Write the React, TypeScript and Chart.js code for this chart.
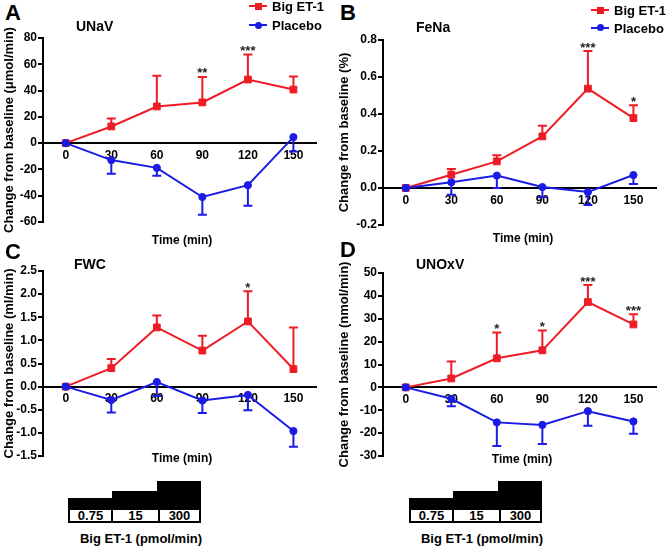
import React, { useEffect, useRef } from "react";
import { Chart, registerables } from "chart.js";

Chart.register(...registerables);

const FONT = '"Liberation Sans", Arial, Helvetica, sans-serif';
const RED = "#ee1c25";
const BLUE = "#1b1be6";

// ---------- shared ----------
const timePoints = [0, 30, 60, 90, 120, 150];
const xTickValues = [0, 30, 60, 90, 120, 150];
const doseLabels = ["0.75", "15", "300"];

// ---------- Panel A: UNaV ----------
const unavTicks = [-60, -40, -20, 0, 20, 40, 60, 80];
const unavBigET1 = [0, 12.7, 27.9, 31, 48.4, 40.8];
const unavBigET1Err = [0, 6.1, 23.3, 19.4, 19.0, 9.9];
const unavPlacebo = [0, -12.9, -18.8, -41, -32, 4.6];
const unavPlaceboErr = [0, 10.4, 6.1, 13.5, 15.7, 11.0];
const unavStars = ["", "", "", "**", "***", ""];

// ---------- Panel B: FeNa ----------
const fenaTicks = [-0.2, 0.0, 0.2, 0.4, 0.6, 0.8];
const fenaBigET1 = [0, 0.072, 0.144, 0.279, 0.537, 0.378];
const fenaBigET1Err = [0, 0.031, 0.033, 0.058, 0.203, 0.069];
const fenaPlacebo = [0, 0.031, 0.067, 0.005, -0.022, 0.07];
const fenaPlaceboErr = [0, 0.067, 0.067, 0.055, 0.07, 0.048];
const fenaStars = ["", "", "", "", "***", "*"];

// ---------- Panel C: FWC ----------
const fwcTicks = [-1.5, -1.0, -0.5, 0.0, 0.5, 1.0, 1.5, 2.0, 2.5];
const fwcBigET1 = [0, 0.4, 1.28, 0.78, 1.41, 0.38];
const fwcBigET1Err = [0, 0.2, 0.26, 0.32, 0.65, 0.9];
const fwcPlacebo = [0, -0.29, 0.1, -0.3, -0.18, -0.96];
const fwcPlaceboErr = [0, 0.27, 0.3, 0.27, 0.33, 0.34];
const fwcStars = ["", "", "", "", "*", ""];

// ---------- Panel D: UNOxV ----------
const unoxTicks = [-30, -20, -10, 0, 10, 20, 30, 40, 50];
const unoxBigET1 = [0, 3.9, 12.7, 16.2, 37.3, 27.5];
const unoxBigET1Err = [0, 7.4, 11.3, 8.7, 7.4, 4.5];
const unoxPlacebo = [0, -5, -15.3, -16.4, -10.4, -14.9];
const unoxPlaceboErr = [0, 3.3, 10.3, 8.3, 6.4, 5.4];
const unoxStars = ["", "", "*", "*", "***", "***"];

const errorBarPlugin = {
  id: "errorBars",
  afterDatasetDraw(chart: any, args: any) {
    const ds: any = chart.data.datasets[args.index];
    const meta = args.meta;
    const yScale = chart.scales.y;
    const ctx = chart.ctx;
    ctx.save();
    ctx.strokeStyle = ds.borderColor;
    ctx.lineWidth = 2;
    meta.data.forEach((pt: any, i: number) => {
      const err = ds.errors ? ds.errors[i] : 0;
      const v = ds.data[i].y;
      if (err > 0) {
        const yEnd = yScale.getPixelForValue(v + ds.errDir * err);
        ctx.beginPath();
        ctx.moveTo(pt.x, pt.y);
        ctx.lineTo(pt.x, yEnd);
        ctx.moveTo(pt.x - 4.5, yEnd);
        ctx.lineTo(pt.x + 4.5, yEnd);
        ctx.stroke();
      }
      if (ds.stars && ds.stars[i]) {
        const top = yScale.getPixelForValue(v + (err > 0 ? ds.errDir * err : 0));
        ctx.fillStyle = "#222";
        ctx.font = `bold 13px ${FONT}`;
        ctx.textAlign = "center";
        ctx.textBaseline = "alphabetic";
        ctx.fillText(ds.stars[i], pt.x, top + 0.5);
      }
    });
    ctx.restore();
  },
};

type PanelProps = {
  x: number; y: number; w: number; h: number;
  yWidth: number; titlePad: number; yTitle: string;
  yTicks: number[]; decimals: number;
  big: number[]; bigErr: number[]; pla: number[]; plaErr: number[]; stars: string[];
};

function Panel(p: PanelProps) {
  const ref = useRef<HTMLCanvasElement>(null);
  useEffect(() => {
    const tickFont = { family: FONT, size: 12, weight: "bold" as const };
    const chart = new Chart(ref.current as HTMLCanvasElement, {
      type: "line",
      data: {
        datasets: [
          {
            label: "Big ET-1",
            data: p.big.map((v, i) => ({ x: timePoints[i], y: v })),
            borderColor: RED,
            backgroundColor: RED,
            pointStyle: "rect",
            pointRadius: 4.8,
            pointBorderWidth: 1,
            borderWidth: 2,
            tension: 0,
            order: 1,
            errors: p.bigErr,
            errDir: 1,
            stars: p.stars,
          } as any,
          {
            label: "Placebo",
            data: p.pla.map((v, i) => ({ x: timePoints[i], y: v })),
            borderColor: BLUE,
            backgroundColor: BLUE,
            pointStyle: "circle",
            pointRadius: 3.6,
            pointBorderWidth: 1,
            borderWidth: 2,
            tension: 0,
            order: 0,
            errors: p.plaErr,
            errDir: -1,
          } as any,
        ],
      },
      options: {
        animation: false,
        responsive: false,
        devicePixelRatio: 1,
        layout: { padding: { top: 12, bottom: 12, left: 0, right: 2 } },
        plugins: { legend: { display: false }, tooltip: { enabled: false } },
        scales: {
          x: {
            type: "linear",
            min: -15,
            max: 165,
            position: { y: 0 } as any,
            afterBuildTicks: (s: any) => {
              s.ticks = xTickValues.map((v) => ({ value: v }));
            },
            grid: { display: false, drawTicks: false },
            border: { display: true, color: "#000", width: 2 },
            ticks: {
              padding: 5,
              font: tickFont,
              color: "#000",
              autoSkip: false,
              maxRotation: 0,
              callback: (v: any) => String(v),
            },
          },
          y: {
            type: "linear",
            min: p.yTicks[0],
            max: p.yTicks[p.yTicks.length - 1],
            afterBuildTicks: (s: any) => {
              s.ticks = p.yTicks.map((v) => ({ value: v }));
            },
            afterFit: (s: any) => {
              s.width = p.yWidth;
            },
            grid: {
              drawOnChartArea: false,
              drawTicks: true,
              tickLength: 5,
              lineWidth: 2,
              color: "#000",
            },
            border: { display: true, color: "#000", width: 2 },
            ticks: {
              padding: 1,
              font: tickFont,
              color: "#000",
              callback: (v: any) => Number(v).toFixed(p.decimals),
            },
            title: {
              display: true,
              text: p.yTitle,
              color: "#000",
              font: { family: FONT, size: 13, weight: "bold" },
              padding: { top: p.titlePad, bottom: 0 },
            },
          },
        },
      },
      plugins: [errorBarPlugin],
    });
    return () => chart.destroy();
  }, []);
  return (
    <canvas
      ref={ref}
      width={p.w}
      height={p.h}
      style={{ position: "absolute", left: p.x, top: p.y, width: p.w, height: p.h }}
    />
  );
}

function Txt({ x, y, size, children, anchor = "center" }: any) {
  return (
    <div
      style={{
        position: "absolute",
        left: x,
        top: y,
        transform: anchor === "center" ? "translate(-50%,-50%)" : "translate(0,-50%)",
        font: `bold ${size}px ${FONT}`,
        lineHeight: 1,
        whiteSpace: "nowrap",
        color: "#000",
      }}
    >
      {children}
    </div>
  );
}

function Legend({ x, y1, y2 }: { x: number; y1: number; y2: number }) {
  const item = (color: string, label: string, y: number, shape: "rect" | "circle") => (
    <div key={label}>
      <div style={{ position: "absolute", left: x, top: y - 1, width: 18, height: 2, background: color }} />
      <div
        style={{
          position: "absolute",
          left: x + 9 - 3.5,
          top: y - 3.5,
          width: 7,
          height: 7,
          background: color,
          borderRadius: shape === "circle" ? "50%" : 0,
        }}
      />
      <Txt x={x + 23} y={y} size={13} anchor="left">{label}</Txt>
    </div>
  );
  return (
    <>
      {item(RED, "Big ET-1", y1, "rect")}
      {item(BLUE, "Placebo", y2, "circle")}
    </>
  );
}

function DoseSteps({ dx }: { dx: number }) {
  const edges = [68, 112, 157, 201];
  const tops = [498, 491, 481];
  const cellEdges = [68, 112, 159, 201];
  return (
    <>
      {tops.map((t, i) => (
        <div
          key={"b" + i}
          style={{
            position: "absolute",
            left: edges[i] + dx,
            top: t,
            width: edges[i + 1] - edges[i],
            height: 509 - t,
            background: "#000",
          }}
        />
      ))}
      {doseLabels.map((lab, i) => (
        <div
          key={"c" + i}
          style={{
            position: "absolute",
            left: cellEdges[i] + dx,
            top: 508,
            width: cellEdges[i + 1] - cellEdges[i],
            height: 15,
            boxSizing: "border-box",
            border: "2px solid #000",
            borderLeftWidth: i === 0 ? 2 : 1,
            borderRightWidth: i === 2 ? 2 : 1,
            background: "#fff",
            font: `bold 13px ${FONT}`,
            lineHeight: "12px",
            textAlign: "center",
            color: "#000",
          }}
        >
          {lab}
        </div>
      ))}
      <Txt x={141 + dx} y={538} size={13}>Big ET-1 (pmol/min)</Txt>
    </>
  );
}

export default function App() {
  return (
    <div
      style={{
        position: "absolute",
        left: 0,
        top: 0,
        width: 666,
        height: 547,
        background: "#fff",
        overflow: "hidden",
      }}
    >
      <Panel
        x={0} y={26} w={322} h={208} yWidth={43} titlePad={2}
        yTitle="Change from baseline (μmol/min)" yTicks={unavTicks} decimals={0}
        big={unavBigET1} bigErr={unavBigET1Err} pla={unavPlacebo} plaErr={unavPlaceboErr} stars={unavStars}
      />
      <Panel
        x={333} y={28} w={329} h={209} yWidth={50} titlePad={4}
        yTitle="Change from baseline (%)" yTicks={fenaTicks} decimals={1}
        big={fenaBigET1} bigErr={fenaBigET1Err} pla={fenaPlacebo} plaErr={fenaPlaceboErr} stars={fenaStars}
      />
      <Panel
        x={0} y={259} w={322} h={209} yWidth={43} titlePad={2}
        yTitle="Change from baseline (ml/min)" yTicks={fwcTicks} decimals={1}
        big={fwcBigET1} bigErr={fwcBigET1Err} pla={fwcPlacebo} plaErr={fwcPlaceboErr} stars={fwcStars}
      />
      <Panel
        x={333} y={261} w={329} h={207} yWidth={50} titlePad={4}
        yTitle="Change from baseline (nmol/min)" yTicks={unoxTicks} decimals={0}
        big={unoxBigET1} bigErr={unoxBigET1Err} pla={unoxPlacebo} plaErr={unoxPlaceboErr} stars={unoxStars}
      />

      <Txt x={5} y={13} size={22} anchor="left">A</Txt>
      <Txt x={340} y={12.5} size={22} anchor="left">B</Txt>
      <Txt x={5} y={252} size={22} anchor="left">C</Txt>
      <Txt x={340} y={250} size={22} anchor="left">D</Txt>

      <Txt x={76} y={26} size={14} anchor="left">UNaV</Txt>
      <Txt x={416} y={27} size={14} anchor="left">FeNa</Txt>
      <Txt x={74} y={264} size={14} anchor="left">FWC</Txt>
      <Txt x={416} y={263.5} size={14} anchor="left">UNOxV</Txt>

      <Txt x={182} y={240} size={12}>Time (min)</Txt>
      <Txt x={523} y={238} size={12}>Time (min)</Txt>
      <Txt x={182} y={458} size={12}>Time (min)</Txt>
      <Txt x={522} y={459} size={12}>Time (min)</Txt>

      <Legend x={249} y1={6} y2={25} />
      <Legend x={591} y1={10} y2={27.5} />

      <DoseSteps dx={0} />
      <DoseSteps dx={341} />
    </div>
  );
}
